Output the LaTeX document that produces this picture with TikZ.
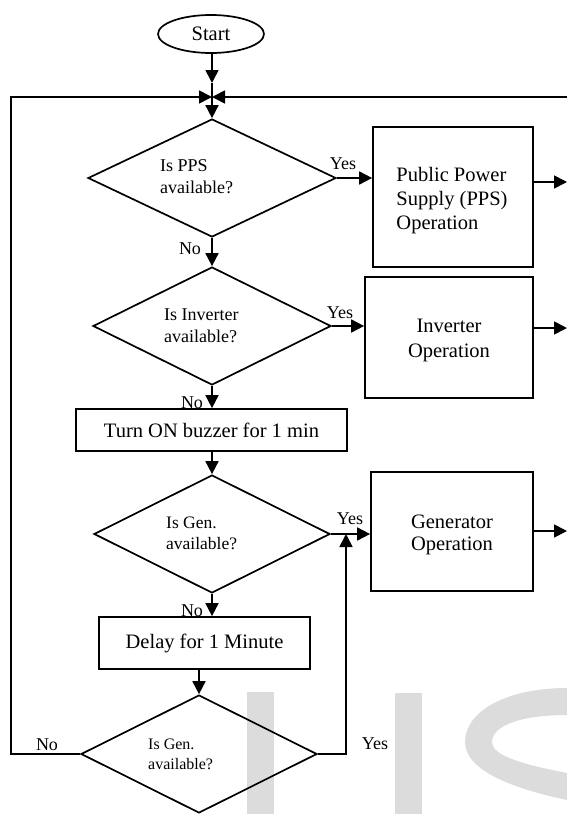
\documentclass[tikz,border=0pt]{standalone}
\usepackage{fontspec}
\setmainfont{Liberation Serif}
\usetikzlibrary{shapes.geometric,arrows.meta}
\definecolor{wm}{RGB}{220,220,220}
\begin{document}
\begin{tikzpicture}[x=1pt,y=-1pt,
  every node/.style={inner sep=0pt},
  ln/.style={line width=1.7pt},
  arr/.style={ln,-{Triangle[length=13pt,width=13pt]}},
  box/.style={draw,line width=1.7pt,rectangle},
  dia/.style={draw,line width=1.7pt,diamond},
  bt/.style={font=\fontsize{20.5}{24}\selectfont},
  dt/.style={font=\fontsize{18}{22}\selectfont,align=left,anchor=west},
  lab/.style={font=\fontsize{18}{20}\selectfont}]
\useasboundingbox (0,0) rectangle (567,814);
% watermark
\fill[wm] (247,692) rectangle (274,814);
\fill[wm] (395,693) rectangle (422,814);
\fill[wm] (567,688) .. controls (505,688) and (465,712) .. (465,742)
  .. controls (465,768) and (505,787) .. (567,800) -- (567,773)
  .. controls (520,764) and (492,755) .. (492,742)
  .. controls (492,726) and (520,715) .. (567,715) -- cycle;
% nodes
\node[draw,ellipse,line width=1.7pt,minimum width=106pt,minimum height=38pt,bt] (start) at (211,34) {Start};
\node[dia,minimum width=248pt,minimum height=118pt] (d1) at (212,178) {};
\node[dt] (t1) at (160,177) {Is PPS\\available?};
\node[box,minimum width=160pt,minimum height=140pt] (b1) at (453,197) {};
\node[bt,align=left] (tb1) at (452,201) {Public Power\\Supply (PPS)\\Operation};
\node[dia,minimum width=238pt,minimum height=118pt] (d2) at (212,326) {};
\node[dt] (t2) at (164,325.5) {Is Inverter\\available?};
\node[box,minimum width=168pt,minimum height=121pt] (b2) at (449,337.5) {};
\node[font=\fontsize{20.5}{25}\selectfont,align=center] (tb2) at (449,340.5) {Inverter\\Operation};
\node[box,minimum width=271pt,minimum height=42pt,bt] (b3) at (211.5,430) {Turn ON buzzer for 1 min};
\node[dia,minimum width=236pt,minimum height=118pt] (d3) at (212,534) {};
\node[dt,font=\fontsize{17.5}{21.5}\selectfont] (t3) at (166,533.5) {Is Gen.\\available?};
\node[box,minimum width=162pt,minimum height=119pt] (b4) at (452,531.5) {};
\node[font=\fontsize{20.5}{22.5}\selectfont,align=center] (tb4) at (452,535) {Generator\\Operation};
\node[box,minimum width=211pt,minimum height=52pt,bt] (b5) at (204.5,643) {Delay for 1 Minute};
\node[dia,minimum width=236pt,minimum height=118pt] (d4) at (199,754) {};
\node[dt,font=\fontsize{16}{20}\selectfont] (t4) at (148,754) {Is Gen.\\available?};
% coordinates
\coordinate (j) at (212,97);
\coordinate (s1) at (212,83);
\coordinate (lt) at (11,97);
\coordinate (lbot) at (11,754);
\coordinate (rt) at (567,97);
\coordinate (rb) at (346,754);
\coordinate (rj) at (346,534);
\coordinate (o1) at (567,182);
\coordinate (o2) at (567,328);
\coordinate (o3) at (567,531);
% connectors
\draw[arr] (start.south -| s1) -- (s1);
\draw[ln] (s1) -- (j);
\draw[arr] (d4.west) -- (lbot) -- (lt) -- (j);
\draw[arr] (rt) -- (j);
\draw[arr] (j) -- (d1.north);
\draw[arr] (d1.east) -- (b1.west |- d1.east);
\draw[arr] (b1.east |- o1) -- (o1);
\draw[arr] (d1.south) -- (d2.north);
\draw[arr] (d2.east) -- (b2.west |- d2.east);
\draw[arr] (b2.east |- o2) -- (o2);
\draw[arr] (d2.south) -- (d2.south |- b3.north);
\draw[arr] (b3.south -| d3.north) -- (d3.north);
\draw[arr] (d3.east) -- (b4.west |- d3.east);
\draw[arr] (b4.east |- o3) -- (o3);
\draw[arr] (d3.south) -- (d3.south |- b5.north);
\draw[arr] (b5.south -| d4.north) -- (d4.north);
\draw[arr] (d4.east) -- (rb) -- (rj);
% labels
\node[lab] (y1) at (343,164) {Yes};
\node[lab] (n1) at (190,249) {No};
\node[lab] (y2) at (340,313) {Yes};
\node[lab] (n2) at (192,403) {No};
\node[lab] (y3) at (350,519) {Yes};
\node[lab] (n3) at (192,611) {No};
\node[lab] (n4) at (47,745) {No};
\node[lab] (y4) at (375,744) {Yes};
\end{tikzpicture}
\end{document}
